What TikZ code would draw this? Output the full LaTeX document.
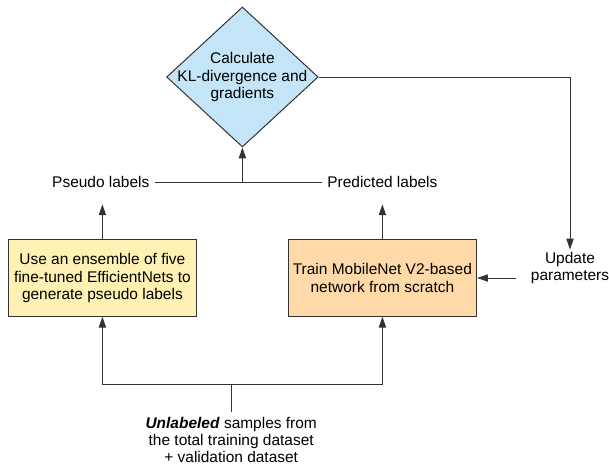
\documentclass[tikz,border=0pt]{standalone}
\usepackage{fontspec}
\setmainfont{Liberation Sans}
\usepackage{tikz}
\usetikzlibrary{shapes.geometric}
\usetikzlibrary{arrows.meta}
\definecolor{klblue}{HTML}{C4E4F7}
\definecolor{ensyellow}{HTML}{FFF1B3}
\definecolor{trainorange}{HTML}{FFDAA8}

\begin{document}
\begin{tikzpicture}[
			font=\fontsize{11}{12.2}\selectfont,
			>={Triangle[length=2.7mm,width=1.8mm]},
			mybox/.style={draw=black!80, line width=0.25mm, align=center, minimum width=4.68cm, minimum height=1.91cm},
			mydiamond/.style={diamond, draw=black!80, line width=0.25mm, fill=klblue, inner sep=0, minimum width=3.79cm, minimum height=3.5cm},
			mylabel/.style={inner xsep=0.14cm, inner ysep=0.4cm},
			myarrow/.style={->, line width=0.25mm, color=black!80},
			myline/.style={line width=0.25mm, color=black!80}
		]
		\useasboundingbox (0,0) rectangle (15.225,-11.625);

		\node[mydiamond, label={[align=center]center:Calculate\\KL-divergence and\\gradients}] (kl) at (6.06,-1.925) {};

		\node[mylabel] (pseudo) at (2.52,-4.56) {Pseudo labels};
		\node[mylabel] (predicted) at (9.56,-4.56) {Predicted labels};

		\node[mybox, fill=ensyellow] (ens) at (2.56,-6.95) {Use an ensemble of five\\fine-tuned EfficientNets to\\generate pseudo labels};
		\node[mybox, fill=trainorange] (train) at (9.56,-6.95) {Train MobileNet V2-based\\network from scratch};

		\node[align=center, inner xsep=0.36cm, inner ysep=2pt] (update) at (14.25,-6.71) {Update\\parameters};

		\node[align=center] (unl) at (5.78,-11.0) {\textbf{\textit{Unlabeled}} samples from\\the total training dataset\\+ validation dataset};
		\coordinate (split) at (5.78,-9.6);

		\draw[myline] (unl) -- (split);
		\draw[myarrow] (split) -| (ens);
		\draw[myarrow] (split) -| (train);

		\draw[myarrow] (ens) -- (ens |- pseudo.south);
		\draw[myarrow] (train) -- (train |- predicted.south);
		\draw[myline] (pseudo) -- (predicted);
		\draw[myarrow] (kl |- pseudo) -- (kl);

		\draw[myarrow] (kl.east) -| (update.north);
		\draw[myarrow] (update.west |- train) -- (train);

	\end{tikzpicture}
\end{document}
